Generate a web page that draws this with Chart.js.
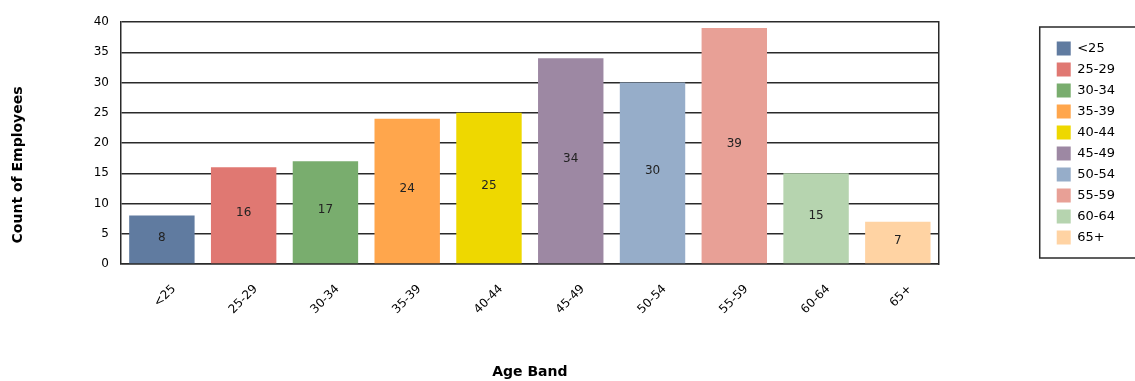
<!DOCTYPE html>
<html lang="en">
<head>
    <meta charset="UTF-8">
    <title>Count of Employees by Age Band</title>
    <script src="https://cdn.jsdelivr.net/npm/chart.js"></script>
    <style>
        body {
            margin: 0;
            background: #fff;
            font-family: 'DejaVu Sans', sans-serif;
        }
        .wrap {
            width: 1135px;
            height: 381px;
            position: relative;
        }
    </style>
</head>
<body>
    <div class="wrap">
        <canvas id="ageChart"></canvas>
    </div>
<script>
    // Data
    const ageBands = ['<25', '25-29', '30-34', '35-39', '40-44', '45-49', '50-54', '55-59', '60-64', '65+'];
    const employeeCounts = [8, 16, 17, 24, 25, 34, 30, 39, 15, 7];
    const bandColors = ['#607BA0', '#E07872', '#79AD6E', '#FFA64C', '#EED800',
                        '#9D88A3', '#96ADC9', '#E8A096', '#B6D4AF', '#FFD3A3'];
    const yTicks = [0, 5, 10, 15, 20, 25, 30, 35, 40];

    Chart.defaults.font.family = "'DejaVu Sans', sans-serif";
    Chart.defaults.color = '#000';

    const lineColor = '#2a2a2a';

    // values written inside the bars
    const barValues = {
        id: 'barValues',
        afterDatasetsDraw(chart) {
            const ctx = chart.ctx;
            const meta = chart.getDatasetMeta(0);
            ctx.save();
            ctx.font = "12px 'DejaVu Sans', sans-serif";
            ctx.fillStyle = '#222';
            ctx.textAlign = 'center';
            ctx.textBaseline = 'middle';
            meta.data.forEach((bar, i) => {
                ctx.fillText(employeeCounts[i], bar.x, (bar.y + bar.base) / 2 - 2);
            });
            ctx.restore();
        }
    };

    // frame round the legend
    const legendFrame = {
        id: 'legendFrame',
        afterDraw(chart) {
            const lg = chart.legend;
            const area = chart.chartArea;
            const ctx = chart.ctx;
            ctx.save();
            ctx.strokeStyle = lineColor;
            ctx.lineWidth = 1.5;
            ctx.strokeRect(lg.left - 10, area.top + 5, lg.right - lg.left + 40, area.bottom - area.top - 11);
            ctx.restore();
        }
    };

    new Chart(document.getElementById('ageChart'), {
        type: 'bar',
        data: {
            labels: ageBands,
            datasets: [{
                label: 'Count of Employees',
                data: employeeCounts,
                backgroundColor: bandColors,
                borderWidth: 0,
                barPercentage: 0.8,
                categoryPercentage: 1.0
            }]
        },
        options: {
            responsive: true,
            maintainAspectRatio: false,
            animation: false,
            layout: {
                padding: { top: 22, left: 0, right: 10, bottom: 0 }
            },
            plugins: {
                tooltip: { enabled: false },
                legend: {
                    position: 'right',
                    align: 'center',
                    fullSize: false,
                    onClick: null,
                    labels: {
                        boxWidth: 14,
                        boxHeight: 14,
                        padding: 7,
                        color: '#000',
                        font: { size: 13 },
                        generateLabels: () => ageBands.map((band, i) => ({
                            text: band,
                            fillStyle: bandColors[i],
                            strokeStyle: bandColors[i],
                            lineWidth: 0,
                            hidden: false,
                            index: i
                        }))
                    }
                }
            },
            scales: {
                x: {
                    grid: { display: false },
                    border: { display: true, color: lineColor, width: 1.5 },
                    ticks: {
                        minRotation: 45,
                        maxRotation: 45,
                        labelOffset: 12,
                        padding: 10,
                        font: { size: 12 },
                        color: '#000'
                    },
                    title: {
                        display: true,
                        text: 'Age Band',
                        font: { size: 14, weight: 'bold' },
                        color: '#000',
                        padding: { top: 0, bottom: 0 }
                    },
                    afterFit: s => { s.height = 117; }
                },
                y: {
                    min: 0,
                    max: 40,
                    afterBuildTicks: s => { s.ticks = yTicks.map(v => ({ value: v })); },
                    grid: { color: lineColor, lineWidth: 1.5, drawTicks: false },
                    border: { display: true, color: lineColor, width: 1.5 },
                    ticks: {
                        padding: 12,
                        font: { size: 12 },
                        color: '#000'
                    },
                    title: {
                        display: true,
                        // trailing spaces push the title down to where the reference has it
                        text: 'Count of Employees' + ' '.repeat(9),
                        font: { size: 14, weight: 'bold' },
                        color: '#000',
                        padding: { top: 10, bottom: 0 }
                    },
                    afterFit: s => { s.width = 121; }
                },
                y2: {
                    position: 'right',
                    grid: { display: false, drawTicks: false },
                    ticks: { display: false },
                    border: { display: true, color: lineColor, width: 1.5 },
                    afterFit: s => { s.width = 111; }
                }
            }
        },
        plugins: [barValues, legendFrame]
    });
</script>
</body>
</html>
